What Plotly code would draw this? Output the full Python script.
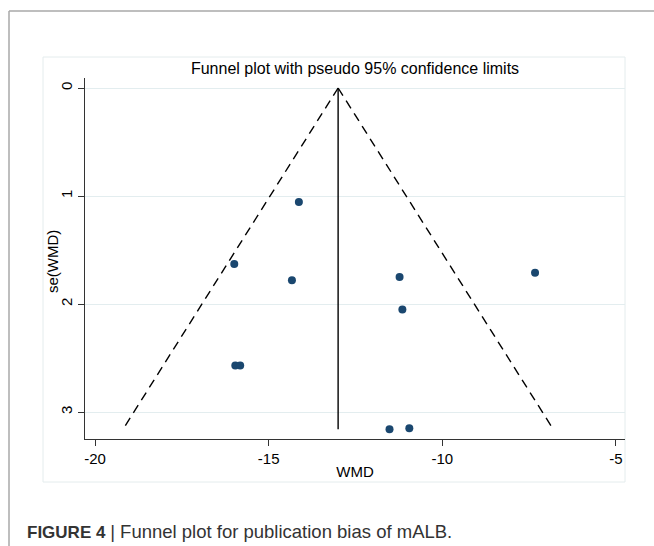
import plotly.graph_objects as go

# Study estimates: weighted mean difference and its standard error
wmd = [-14.13, -15.99, -14.33, -11.23, -7.33, -11.15, -15.96, -15.82, -11.52, -10.95]
se_wmd = [1.056, 1.63, 1.78, 1.75, 1.71, 2.05, 2.57, 2.57, 3.16, 3.15]

# Pooled (fixed-effect) estimate and 95% multiplier for the pseudo limits
pooled_wmd = -13.0
z95 = 1.96

x_ticks = [-20, -15, -10, -5]
x_tick_labels = ["-20", "-15", "-10", "-5"]
y_ticks = [0, 1, 2, 3]
y_tick_labels = ["0", "1", "2", "3"]

W, H = 654, 546
PL, PR, PT, PB = 85, 625, 78, 439   # plot area in pixels


def px_x(p):
    return (p - PL) / (PR - PL)


def px_y(p):
    return (PB - p) / (PB - PT)


se_max = max(se_wmd)
lim_left_x = [pooled_wmd, pooled_wmd - z95 * se_max]
lim_right_x = [pooled_wmd, pooled_wmd + z95 * se_max]
lim_y = [0, se_max]

INK = "#1a476f"
FONT = "Liberation Sans, Arial, Helvetica, sans-serif"

fig = go.Figure()

# pseudo 95% confidence limits
for xs in (lim_left_x, lim_right_x):
    fig.add_trace(go.Scatter(
        x=xs, y=lim_y, mode="lines",
        line=dict(color="black", width=1.4, dash="9px,6px"),
        hoverinfo="skip", showlegend=False))

# pooled estimate line
fig.add_trace(go.Scatter(
    x=[pooled_wmd, pooled_wmd], y=lim_y, mode="lines",
    line=dict(color="black", width=1.4),
    hoverinfo="skip", showlegend=False))

# studies
fig.add_trace(go.Scatter(
    x=wmd, y=se_wmd, mode="markers",
    marker=dict(color=INK, size=8, line=dict(width=0)),
    showlegend=False))

shapes = [
    # outer figure frame (top and left edges)
    dict(type="line", xref="paper", yref="paper",
         x0=px_x(9), x1=px_x(W + 5), y0=px_y(11), y1=px_y(11),
         line=dict(color="#a8a8a8", width=1.5)),
    dict(type="line", xref="paper", yref="paper",
         x0=px_x(9), x1=px_x(9), y0=px_y(11), y1=px_y(H + 5),
         line=dict(color="#a8a8a8", width=1.5)),
    # graph region border
    dict(type="rect", xref="paper", yref="paper",
         x0=px_x(43), x1=px_x(625), y0=px_y(482), y1=px_y(57),
         line=dict(color="#e4eced", width=1), layer="below"),
]

annotations = [
    # y-axis title
    dict(text="se(WMD)", xref="paper", yref="paper",
         x=px_x(52), y=px_y(262), textangle=-90,
         xanchor="center", yanchor="middle", showarrow=False,
         font=dict(family=FONT, size=15, color="black")),
    # figure caption
    dict(text="<b>FIGURE 4</b> <span style='font-size:18.5px'>| Funnel plot "
              "for publication bias of mALB.</span>",
         xref="paper", yref="paper", x=px_x(25), y=px_y(531),
         xanchor="left", yanchor="middle", showarrow=False,
         font=dict(family=FONT, size=17, color="#333333")),
]

fig.update_layout(
    width=W, height=H,
    margin=dict(l=PL, r=W - PR, t=PT, b=H - PB, pad=0),
    paper_bgcolor="white", plot_bgcolor="white",
    font=dict(family=FONT, size=15, color="black"),
    title=dict(text="Funnel plot with pseudo 95% confidence limits",
               x=0.5, xref="paper", y=1 - 68 / H, yref="container",
               xanchor="center", yanchor="middle",
               font=dict(family=FONT, size=16, color="black")),
    xaxis=dict(range=[-20.288, -4.74], tickvals=x_ticks,
               ticktext=x_tick_labels, ticks="outside",
               ticklen=6, tickcolor="#333333", showgrid=False,
               showline=True, linecolor="#333333", linewidth=1.2,
               zeroline=False, tickfont=dict(size=15),
               title=dict(text="WMD", standoff=0, font=dict(size=15))),
    yaxis=dict(range=[3.25, -0.0926], tickvals=y_ticks,
               ticktext=y_tick_labels, ticks="outside",
               ticklen=6, tickcolor="#333333", tickangle=-90,
               showgrid=True, gridcolor="#e3edef", gridwidth=1,
               showline=True, linecolor="#333333", linewidth=1.2,
               zeroline=False, tickfont=dict(size=15)),
    shapes=shapes,
    annotations=annotations,
)

fig.write_html("out.html")
